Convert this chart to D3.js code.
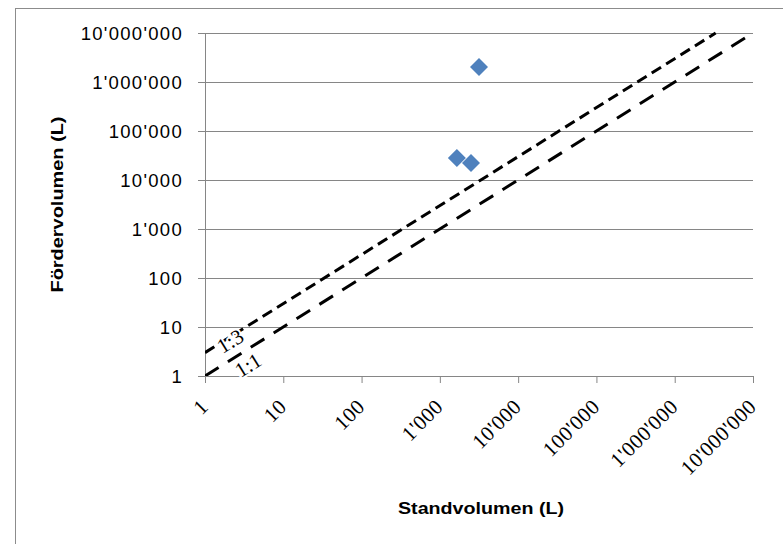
<!DOCTYPE html>
<html><head><meta charset="utf-8">
<script src="https://cdn.jsdelivr.net/npm/d3@7"></script>
<style>
body{margin:0;background:#fff;}
svg{display:block;}
</style></head>
<body>
<svg id="c" width="783" height="544"></svg>
<script>
// Data
const standvolumen = [3160, 1650, 2500];
const foerdervolumen = [2020000, 28100, 22200];
const tickValues = [1, 10, 100, 1000, 10000, 100000, 1000000, 10000000];
const tickLabels = ["1", "10", "100", "1'000", "10'000", "100'000", "1'000'000", "10'000'000"];
const refRatios = [1, 3];
const refLabels = ["1:1", "1:3"];
const xTitle = "Standvolumen (L)";
const yTitle = "Fördervolumen (L)";

(function () {
const svg = d3.select("#c");
const pL = 205, pR = 753, pT = 33, pB = 376;

const x = d3.scaleLog().domain([1, 1e7]).range([pL, pR]);
const y = d3.scaleLog().domain([1, 1e7]).range([pB, pT]);

// outer border
svg.append("rect").attr("x", 15.5).attr("y", 8.5).attr("width", 800).attr("height", 600)
  .attr("fill", "none").attr("stroke", "#8c8c8c").attr("stroke-width", 1);

const grid = "#868686";
// horizontal gridlines + y ticks
const yAxis = d3.axisLeft(y).tickValues(tickValues).tickSize(7).tickFormat((d, i) => tickLabels[i]);
const gy = svg.append("g").attr("transform", `translate(${pL},0)`).call(yAxis);
gy.select(".domain").remove();
gy.selectAll(".tick line").attr("stroke", grid);
gy.selectAll(".tick").append("line").attr("x1", 0).attr("x2", pR - pL).attr("stroke", grid);
gy.selectAll(".tick text").attr("x", -22).attr("fill", "#000")
  .style("font-family", "'Liberation Sans', Arial, sans-serif").style("font-size", "18.5px")
  .style("letter-spacing", "1.3px").attr("dy", "0.35em");

// x axis
const xAxis = d3.axisBottom(x).tickValues(tickValues).tickSize(7).tickFormat((d, i) => tickLabels[i]);
const gx = svg.append("g").attr("transform", `translate(0,${pB})`).call(xAxis);
gx.select(".domain").remove();
gx.selectAll(".tick line").attr("stroke", grid);
gx.selectAll(".tick text").attr("fill", "#000")
  .attr("y", 0).attr("dy", 0)
  .attr("text-anchor", "end")
  .attr("transform", "translate(4,32) rotate(-45)")
  .style("font-family", "'Liberation Serif', 'Times New Roman', serif").style("font-size", "21px")
  .style("letter-spacing", "0.5px");

// y axis line
svg.append("line").attr("x1", pL + 0.5).attr("x2", pL + 0.5).attr("y1", pT).attr("y2", pB)
  .attr("stroke", grid);

// reference lines
svg.append("clipPath").attr("id", "pc").append("rect")
  .attr("x", pL).attr("y", pT - 2).attr("width", pR - pL + 2).attr("height", pB - pT + 2);
const dashes = {1: "16,11", 3: "11,6"};
refRatios.forEach(r => {
  const x1 = 1, x2 = Math.min(1e7, 1e7 / r);
  svg.append("line").attr("clip-path", "url(#pc)")
    .attr("x1", x(x1)).attr("y1", y(x1 * r)).attr("x2", x(x2)).attr("y2", y(x2 * r))
    .attr("stroke", "#000").attr("stroke-width", 3).attr("stroke-dasharray", dashes[r]);
});

// labels of the reference lines
const ang = -Math.atan2(y(1) - y(10), x(10) - x(1)) * 180 / Math.PI;
const lblPos = [[3.54, 1.68], [2.09, 5.18]];
refLabels.forEach((t, i) => {
  const px = x(lblPos[i][0]), py = y(lblPos[i][1]);
  svg.append("text").attr("transform", `translate(${px},${py}) rotate(${ang})`)
    .attr("text-anchor", "middle").attr("dy", "0.35em")
    .style("font-family", "'Liberation Serif', 'Times New Roman', serif").style("font-size", "21px")
    .attr("fill", "#000").attr("stroke", "#fff").attr("stroke-width", 4).attr("paint-order", "stroke")
    .text(t);
});

// data points (diamonds)
const diamond = "M0,-9L9,0L0,9L-9,0Z";
svg.append("g").selectAll("path").data(standvolumen).join("path")
  .attr("d", diamond)
  .attr("transform", (d, i) => `translate(${x(d)},${y(foerdervolumen[i])})`)
  .attr("fill", "#4f81bd");

// axis titles
svg.append("text").attr("x", (pL + pR) / 2 + 2).attr("y", 514).attr("text-anchor", "middle")
  .style("font-family", "'Liberation Sans', Arial, sans-serif").style("font-size", "17px").style("font-weight", "bold")
  .attr("textLength", 166).attr("lengthAdjust", "spacingAndGlyphs")
  .text(xTitle);
svg.append("text").attr("transform", `translate(63,${(pT + pB) / 2}) rotate(-90)`).attr("text-anchor", "middle")
  .style("font-family", "'Liberation Sans', Arial, sans-serif").style("font-size", "17px").style("font-weight", "bold")
  .attr("textLength", 176).attr("lengthAdjust", "spacingAndGlyphs")
  .text(yTitle);
})();
</script>
</body></html>
